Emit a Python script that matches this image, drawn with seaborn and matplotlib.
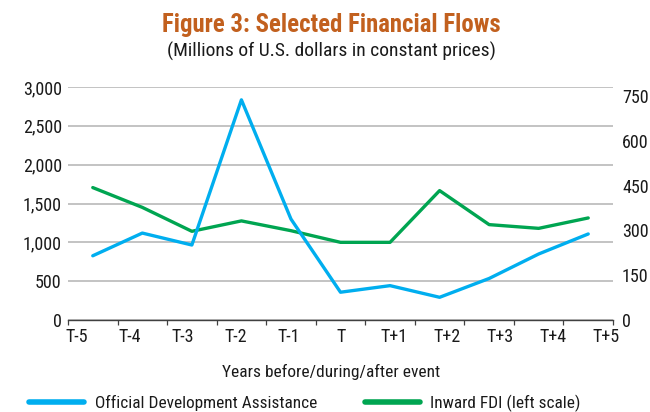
import matplotlib
matplotlib.use("Agg")
import matplotlib.pyplot as plt
import seaborn as sns
import pandas as pd
import numpy as np
from matplotlib import font_manager
from matplotlib.lines import Line2D

# ---- data ----
periods = ["T-5", "T-4", "T-3", "T-2", "T-1", "T", "T+1", "T+2", "T+3", "T+4", "T+5"]
fdi_left = [1705, 1450, 1142, 1276, 1150, 1000, 1000, 1666, 1228, 1180, 1314]   # left scale
oda_right = [215, 291, 251, 737, 338, 93, 115, 76, 139, 221, 288]               # right scale
left_ticks = [0, 500, 1000, 1500, 2000, 2500, 3000]
right_ticks = [0, 150, 300, 450, 600, 750]

title = "Figure 3: Selected Financial Flows"
subtitle = "(Millions of U.S. dollars in constant prices)"
xlabel = "Years before/during/after event"
oda_name = "Official Development Assistance"
fdi_name = "Inward FDI (left scale)"

BLUE = "#00AEEF"
GREEN = "#00A551"
TITLE_C = "#C2601E"
TXT = "#1a1a1a"

sns.set_theme(style="white")
names = {f.name for f in font_manager.fontManager.ttflist}
fam = "DejaVu Sans"
for cand in ["Roboto Condensed", "Archivo Narrow", "PT Sans Narrow", "Barlow Semi Condensed",
             "Asap Condensed", "Fira Sans Condensed"]:
    if cand in names:
        fam = cand
        break
plt.rcParams["font.family"] = [fam, "DejaVu Sans"]

fig = plt.figure(figsize=(6.5, 4.12), dpi=100)
W, H = 650, 412
ax = fig.add_axes([68 / W, 1 - 320 / H, (613 - 68) / W, (320 - 87) / H])
ax2 = ax.twinx()

df = pd.DataFrame({"period": periods, "x": np.arange(len(periods)),
                   "fdi": fdi_left, "oda": oda_right})

sns.lineplot(data=df, x="x", y="fdi", ax=ax, color=GREEN, lw=2.4, legend=False)
sns.lineplot(data=df, x="x", y="oda", ax=ax2, color=BLUE, lw=2.4, legend=False)

n = len(periods)
ax.set_xlim(-0.5, n - 0.5)
ax.set_ylim(0, 3000)
ax2.set_ylim(0, 780)

# y axes
ax.set_yticks(left_ticks)
ax.set_yticklabels([f"{v:,}" for v in left_ticks])
ax.yaxis.grid(True, color="#b3b3b3", lw=1.1)
ax.xaxis.grid(False)
ax.tick_params(axis="y", length=0, pad=4.5, labelsize=13, labelcolor=TXT)
ax2.set_yticks(right_ticks)
ax2.set_yticklabels([str(v) for v in right_ticks])
ax2.tick_params(axis="y", length=0, pad=6.5, labelsize=13, labelcolor=TXT)
ax2.grid(False)

# x axis: tick marks at category boundaries, labels placed as in the reference
ax.set_xticks(np.arange(-0.5, n, 1.0))
ax.set_xticklabels([])
ax.tick_params(axis="x", which="major", direction="out", length=3.5, width=0.9,
               color="#404040", bottom=True)
lab_pos = -0.32 + np.arange(n) * 1.067
ax.set_xticks(lab_pos, minor=True)
ax.set_xticklabels(periods, minor=True)
ax.tick_params(axis="x", which="minor", length=0, pad=6, labelsize=13, labelcolor=TXT)

ax.set_xlabel("")
ax.set_ylabel("")
ax2.set_ylabel("")
for s in ["top", "left", "right"]:
    ax.spines[s].set_visible(False)
    ax2.spines[s].set_visible(False)
ax2.spines["bottom"].set_visible(False)
ax.spines["bottom"].set_color("#404040")
ax.spines["bottom"].set_linewidth(1.0)

# titles
fig.text(331 / W, 1 - 32 / H, title, ha="center", va="baseline", fontsize=17.8,
         fontweight="bold", color=TITLE_C)
fig.text(331 / W, 1 - 57 / H, subtitle, ha="center", va="baseline", fontsize=14, color=TXT)
fig.text(331 / W, 1 - 377 / H, xlabel, ha="center", va="baseline", fontsize=12.5, color=TXT)

# legend
handles = [Line2D([], [], color=BLUE, lw=4), Line2D([], [], color=GREEN, lw=4)]
fig.legend(handles, [oda_name, fdi_name], loc="center", bbox_to_anchor=(305 / W, 1 - 403 / H),
           ncol=2, frameon=False, fontsize=12.4, handlelength=3.2, handletextpad=0.6,
           columnspacing=2.8, borderpad=0, labelcolor=TXT)

fig.savefig("out.png", dpi=100)
